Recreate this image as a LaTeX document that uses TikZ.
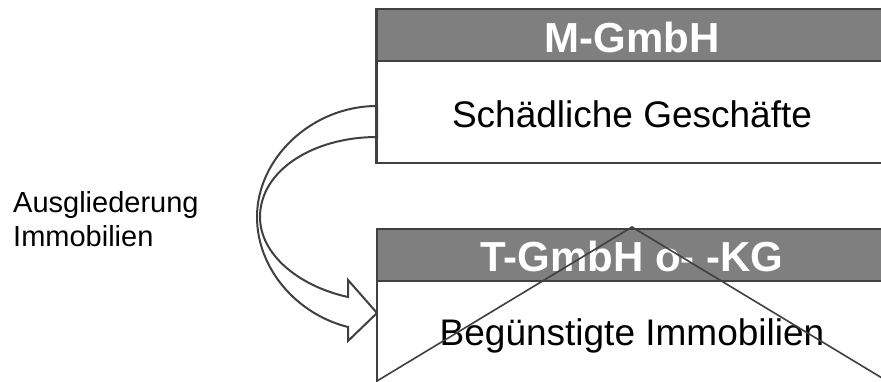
\documentclass[tikz,border=0pt]{standalone}
\usepackage{fontspec}
\setmainfont{Liberation Sans}
\definecolor{linegray}{HTML}{404040}
\definecolor{headgray}{HTML}{7F7F7F}
\begin{document}
\begin{tikzpicture}[x=1pt,y=-1pt,
  boxbody/.style={draw=linegray, line width=2pt, fill=white, rectangle, inner sep=0pt, minimum width=510pt},
  boxhead/.style={draw=linegray, line width=2pt, fill=headgray, rectangle, inner sep=0pt, minimum width=510pt, minimum height=52pt},
  headtext/.style={anchor=base, text=white, font=\fontsize{42}{48}\selectfont\bfseries, inner sep=0pt},
  bodytext/.style={anchor=base, font=\fontsize{37}{42}\selectfont, inner sep=0pt},
  sidetext/.style={anchor=base west, font=\fontsize{29}{33}\selectfont, inner sep=0pt},
  cross/.style={draw=linegray, line width=1.6pt},
  blockarrow/.style={draw=linegray, line width=2pt, fill=white, line join=miter}
]
\useasboundingbox (0,0) rectangle (881,381);
\clip (0,0) rectangle (881,381);

% top box
\node[boxbody, minimum height=154pt] (mbody) at (632,86) {};
\node[boxhead] (mhead) at (632,35) {};
\node[headtext] (mtitle) at (632,52) {M-GmbH};
\node[bodytext] (mtext) at (632,127) {Schädliche Geschäfte};

% curved block arrow
\coordinate (a1) at (377,106);
\coordinate (a2) at (377,137);
\draw[blockarrow] (a1) .. controls (312,106) and (257,158) .. (257,217)
  .. controls (257,268) and (296,314) .. (348,327)
  -- (348,341) -- (377,313) -- (348,280) -- (348,297)
  .. controls (298,286) and (260,254) .. (260,217)
  .. controls (260,170) and (314,137) .. (a2) -- cycle;

% bottom box
\node[boxbody, minimum height=200pt] (tbody) at (632,329) {};
\node[boxhead] (thead) at (632,254.5) {};
\node[headtext] (ttitle) at (632,271) {T-GmbH o- -KG};
\node[bodytext] (ttext) at (632,345) {Begünstigte Immobilien};

% redraw top box frame edges over arrow start
\draw[draw=linegray, line width=2pt] (mbody.north west) -- (mbody.south west);

% cross lines
\coordinate (apex) at (632,227);
\coordinate (cl) at (377,381);
\coordinate (cr) at (887,381);
\draw[cross] (cl) -- (apex) -- (cr);

% side label
\node[sidetext] (lab1) at (13,212) {Ausgliederung};
\node[sidetext] (lab2) at (13,246) {Immobilien};
\end{tikzpicture}
\end{document}
